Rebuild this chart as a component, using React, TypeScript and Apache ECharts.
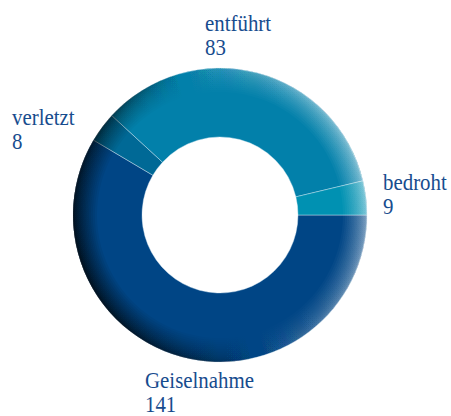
import React, { useEffect, useRef } from "react";
import * as echarts from "echarts";

const categories = ["Geiselnahme", "verletzt", "entführt", "bedroht"];
const values = [141, 8, 83, 9];
const colors = ["#004585", "#006996", "#0280aa", "#0091b2"];

// label anchor (left x, baseline of first line) per category
const labelAnchors: [number, number][] = [
  [145, 388],
  [12, 125],
  [205, 31],
  [383, 190],
];

const CX = 220;
const CY = 215;
const R_OUT = 147;
const R_IN = 78;
const RIM = 24;

function rimOverlay() {
  const els: any[] = [];
  const K = 22;
  const light = (15 * Math.PI) / 180;
  const dx = Math.cos(light) * R_OUT;
  const dy = -Math.sin(light) * R_OUT;
  const pDark = 1 - Math.pow(1 - 0.82, 1 / K);
  const pLight = 1 - Math.pow(1 - 0.58, 1 / K);
  for (let k = 0; k < K; k++) {
    const t = 1 - k / K;
    const r0 = R_OUT - RIM * t * t;
    els.push({
      type: "ring",
      z: 100,
      silent: true,
      shape: { cx: CX, cy: CY, r: R_OUT, r0 },
      style: {
        fill: {
          type: "linear",
          x: CX - dx,
          y: CY - dy,
          x2: CX + dx,
          y2: CY + dy,
          global: true,
          colorStops: [
            { offset: 0, color: `rgba(0,0,0,${pDark.toFixed(4)})` },
            { offset: 0.5, color: "rgba(0,0,0,0)" },
            { offset: 0.5, color: "rgba(255,255,255,0)" },
            { offset: 1, color: `rgba(255,255,255,${pLight.toFixed(4)})` },
          ],
        },
      },
    });
  }
  return els;
}

function labelTexts() {
  return categories.map((name, i) => ({
    type: "text",
    z: 110,
    x: labelAnchors[i][0],
    y: labelAnchors[i][1] - 20,
    scaleX: 0.87,
    style: {
      text: `${name}\n${values[i]}`,
      fontFamily: '"Liberation Serif", "Times New Roman", serif',
      fontSize: 24,
      lineHeight: 24,
      fill: "#174c8e",
      align: "left",
      verticalAlign: "top",
    },
  }));
}

export default function App() {
  const ref = useRef<HTMLDivElement>(null);
  useEffect(() => {
    if (!ref.current) return;
    const chart = echarts.init(ref.current, undefined, { renderer: "svg" });
    chart.setOption({
      animation: false,
      backgroundColor: "#ffffff",
      series: [
        {
          type: "pie",
          center: [CX, CY],
          radius: [R_IN, R_OUT],
          startAngle: 0,
          clockwise: true,
          label: { show: false },
          labelLine: { show: false },
          emphasis: { disabled: true },
          itemStyle: { borderColor: "rgba(220,235,245,0.7)", borderWidth: 0.6 },
          data: categories.map((name, i) => ({
            name,
            value: values[i],
            itemStyle: { color: colors[i] },
          })),
        },
      ],
      graphic: [...rimOverlay(), ...labelTexts()],
    });
    return () => chart.dispose();
  }, []);
  return (
    <div
      ref={ref}
      style={{ position: "absolute", left: 0, top: 0, width: 451, height: 416 }}
    />
  );
}
